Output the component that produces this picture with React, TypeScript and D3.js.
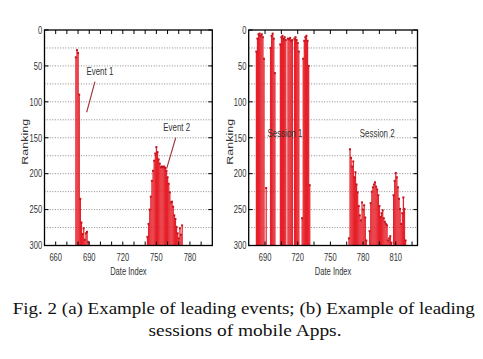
import React from "react";
import * as d3 from "d3";

// ---------- data ----------
// (a) leading events: [date index, ranking]
const eventDates = [678, 679, 680, 681, 682, 683, 684, 685, 686, 687, 688, 689,
  742, 743, 744, 745, 746, 747, 748, 749, 750, 751, 752, 753, 754, 755, 756, 757, 758, 759, 760,
  761, 762, 763, 764, 765, 766, 767, 768, 769, 770, 771, 772, 773];
const eventRanks = [38, 28, 32, 90, 235, 268, 284, 276, 292, 283, 281, 295,
  288, 270, 250, 232, 210, 196, 182, 172, 163, 170, 180, 186, 191, 190, 191, 190, 192, 196, 205,
  214, 226, 240, 239, 246, 258, 263, 274, 283, 290, 276, 285, 272];

// (b) leading sessions
const sessionDates = [682, 683, 684, 685, 686, 687, 688, 689, 691,
  695, 696, 697, 698, 699,
  704, 705, 706, 707, 708, 709, 711, 712, 713, 714, 715, 717, 718, 719, 720, 721,
  724, 725, 726, 727, 728, 729, 730, 731,
  767, 768, 769, 770, 771, 772, 773, 774, 775, 776, 777, 778, 779, 780, 781, 782, 783,
  786, 787, 788, 789, 790, 791, 792, 793, 794, 795, 796, 797, 798, 799, 800, 801, 802, 803, 804, 805, 806,
  808, 809, 810, 811, 812, 813, 814, 815, 816, 817, 818, 819];
const sessionRanks = [30, 12, 6, 5, 8, 6, 10, 40, 220,
  25, 8, 5, 12, 60,
  20, 10, 8, 12, 10, 14, 12, 13, 11, 15, 14, 12, 10, 14, 18, 30,
  262, 40, 15, 10, 8, 15, 50, 216,
  290, 166, 178, 190, 183, 205, 198, 215, 226, 245, 258, 265, 240, 250, 244, 261, 293,
  280, 241, 225, 219, 215, 212, 218, 222, 230, 245, 260, 255, 251, 262, 267, 270, 272, 293, 290, 287, 296,
  230, 210, 199, 205, 219, 235, 249, 270, 255, 233, 249, 293];

const rankTicks = [0, 50, 100, 150, 200, 250, 300];
const rankGrid = [25, 50, 75, 100, 125, 150, 175, 200, 225, 250, 275];
const leftLabelTicks = [660, 690, 720, 750, 780];
const leftMinorTicks = [660, 670, 680, 690, 700, 710, 720, 730, 740, 750, 760, 770, 780, 790];
const rightLabelTicks = [690, 720, 750, 780, 810];
const rightMinorTicks = [690, 705, 720, 735, 750, 765, 780, 795, 810, 825];

const leftNotes = [
  { text: "Event 1", x: 699.5, y: 63, x1: 695.1, y1: 72, x2: 687.7, y2: 114.5 },
  { text: "Event 2", x: 768.2, y: 141, x1: 767.3, y1: 150, x2: 759.2, y2: 193 },
];
const rightNotes = [
  { text: "Session 1", x: 708.3, y: 148.6 },
  { text: "Session 2", x: 793, y: 148.6 },
];

const captionLines = [
  "Fig. 2 (a) Example of leading events; (b) Example of leading",
  "sessions of mobile Apps.",
];

// ---------- styling ----------
const RED = "#e6202a";
const MARK = "#c4141e";
const SX = 0.72; // horizontal compression of the scanned figure text
const SANS = "'Liberation Sans', Arial, sans-serif";
const SERIF = "'Liberation Serif', 'Times New Roman', serif";

type Note = { text: string; x: number; y: number; x1?: number; y1?: number; x2?: number; y2?: number };

function Panel(props: {
  dates: number[]; ranks: number[]; domain: [number, number]; range: [number, number];
  labelTicks: number[]; minorTicks: number[]; notes: Note[]; rankLabelX: number;
}) {
  const { dates, ranks, domain, range, labelTicks, minorTicks, notes, rankLabelX } = props;
  const x = d3.scaleLinear().domain(domain).range(range);
  const y = d3.scaleLinear().domain([0, 300]).range([30, 245.5]);
  const [x0, x1] = range;
  const y0 = y(0), y1 = y(300);
  const tl = 4;
  return (
    <g>
      {rankGrid.map((r) => (
        <line key={"g" + r} x1={x0} x2={x1} y1={y(r)} y2={y(r)} stroke="#8a8a8a" strokeWidth={1} strokeDasharray="1,1.6" />
      ))}
      {dates.map((d, i) => (
        <rect key={"b" + i} x={x(d - 0.5)} width={x(d + 0.5) - x(d - 0.5) + 0.15} y={y(ranks[i])} height={y(300) - y(ranks[i])} fill={RED} />
      ))}
      {dates.map((d, i) => (
        <rect key={"m" + i} x={x(d) - 1} y={y(ranks[i]) - 1} width={2} height={2} fill={MARK} />
      ))}
      {/* frame */}
      <rect x={x0} y={y0} width={x1 - x0} height={y1 - y0} fill="none" stroke="#000" strokeWidth={1.3} />
      {/* x ticks */}
      {minorTicks.map((t) => (
        <g key={"xt" + t}>
          <line x1={x(t)} x2={x(t)} y1={y0} y2={y0 + tl} stroke="#000" strokeWidth={1} />
          <line x1={x(t)} x2={x(t)} y1={y1} y2={y1 - tl} stroke="#000" strokeWidth={1} />
        </g>
      ))}
      {labelTicks.map((t) => (
        <text key={"xl" + t} transform={`translate(${x(t)},${y1 + 15}) scale(${SX},1)`} textAnchor="middle" fontFamily={SANS} fontSize={10.5} fill="#333">{t}</text>
      ))}
      {/* y ticks */}
      {rankTicks.map((r) => (
        <g key={"yt" + r}>
          <line x1={x0} x2={x0 + tl} y1={y(r)} y2={y(r)} stroke="#000" strokeWidth={1} />
          <line x1={x1} x2={x1 - tl} y1={y(r)} y2={y(r)} stroke="#000" strokeWidth={1} />
          <text transform={`translate(${x0 - 2.3},${y(r) + 3.8}) scale(${SX},1)`} textAnchor="end" fontFamily={SANS} fontSize={10.5} fill="#333">{r}</text>
        </g>
      ))}
      <text transform={`translate(${(x0 + x1) / 2},${y1 + 29.5}) scale(${SX},1)`} textAnchor="middle" fontFamily={SANS} fontSize={10.5} fill="#333">Date Index</text>
      <text transform={`translate(${rankLabelX},${(y0 + y1) / 2 + 4}) scale(${SX},1) rotate(-90)`} textAnchor="middle" fontFamily={SANS} fontSize={12.5} fill="#333">Ranking</text>
      {notes.map((n) => (
        <g key={n.text}>
          {n.x1 !== undefined && (
            <line x1={x(n.x1)} y1={y(n.y1 as number)} x2={x(n.x2 as number)} y2={y(n.y2 as number)} stroke="#9a3434" strokeWidth={1.1} />
          )}
          <text transform={`translate(${x(n.x)},${y(n.y)}) scale(${SX},1)`} textAnchor="middle" fontFamily={SANS} fontSize={11} fill="#333">{n.text}</text>
        </g>
      ))}
    </g>
  );
}

export default function App() {
  return (
    <svg width={483} height={359} style={{ position: "absolute", left: 0, top: 0, display: "block", background: "#fff" }}>
      <rect x={0} y={0} width={483} height={359} fill="#fff" />
      <Panel dates={eventDates} ranks={eventRanks} domain={[650, 800]} range={[44.5, 212.3]}
        labelTicks={leftLabelTicks} minorTicks={leftMinorTicks} notes={leftNotes} rankLabelX={28} />
      <Panel dates={sessionDates} ranks={sessionRanks} domain={[675, 830]} range={[248.7, 417.5]}
        labelTicks={rightLabelTicks} minorTicks={rightMinorTicks} notes={rightNotes} rankLabelX={233} />
      <text x={243.8} y={314.3} textAnchor="middle" fontFamily={SERIF} fontSize={17} fill="#111"
        textLength={462} lengthAdjust="spacingAndGlyphs">{captionLines[0]}</text>
      <text x={245} y={335.5} textAnchor="middle" fontFamily={SERIF} fontSize={17} fill="#111"
        textLength={193} lengthAdjust="spacingAndGlyphs">{captionLines[1]}</text>
    </svg>
  );
}
